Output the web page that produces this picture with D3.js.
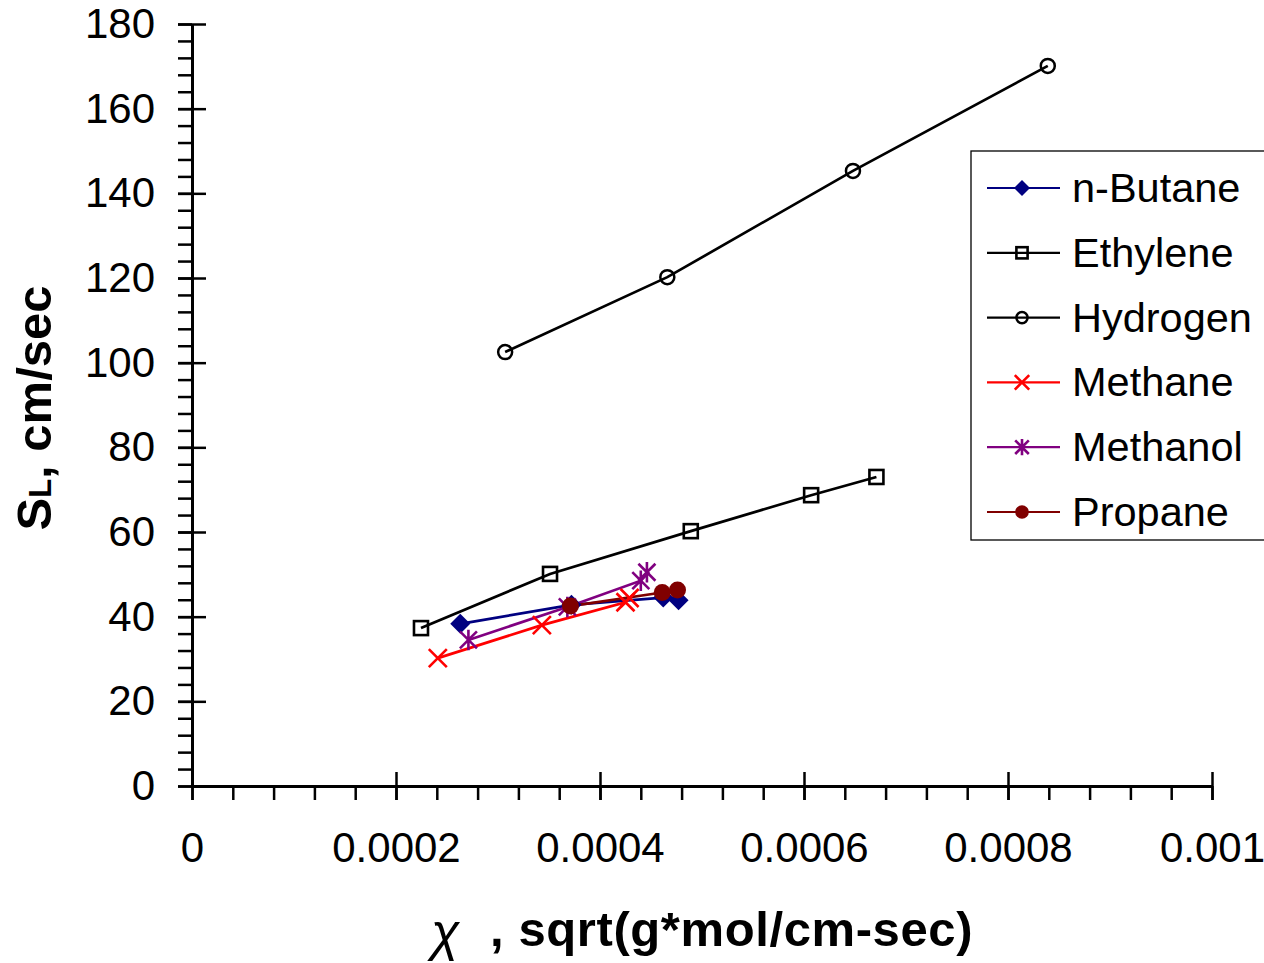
<!DOCTYPE html>
<html><head><meta charset="utf-8">
<script src="https://cdn.jsdelivr.net/npm/d3@7"></script>
<style>
html,body{margin:0;padding:0;background:#fff;}
svg{display:block;}
text{font-family:"Liberation Sans",Arial,sans-serif;}
</style></head>
<body>
<script>
// ---- data ----
const seriesNames = ["n-Butane","Ethylene","Hydrogen","Methane","Methanol","Propane"];
const butaneX = [0.000263,0.000372,0.000462,0.000477];
const butaneY = [38.3,42.8,44.5,43.9];
const ethyleneX = [0.0002245,0.000351,0.000489,0.000607,0.000671];
const ethyleneY = [37.3,50.1,60.2,68.7,73.0];
const hydrogenX = [0.000307,0.000466,0.000648,0.000839];
const hydrogenY = [102.5,120.2,145.3,170.1];
const methaneX = [0.000241,0.000343,0.000425,0.000429];
const methaneY = [30.2,38.0,43.4,44.4];
const methanolX = [0.000271,0.000368,0.000440,0.000446];
const methanolY = [34.5,42.3,48.5,50.5];
const propaneX = [0.000371,0.000461,0.000476];
const propaneY = [42.5,45.7,46.3];
const xTicks = [0,0.0002,0.0004,0.0006,0.0008,0.001];
const xTickLabels = ["0","0.0002","0.0004","0.0006","0.0008","0.001"];
const yTicks = [0,20,40,60,80,100,120,140,160,180];

const series = [
  {name:seriesNames[0], x:butaneX, y:butaneY, color:"#000080", marker:"diamond"},
  {name:seriesNames[1], x:ethyleneX, y:ethyleneY, color:"#000000", marker:"square"},
  {name:seriesNames[2], x:hydrogenX, y:hydrogenY, color:"#000000", marker:"circle"},
  {name:seriesNames[3], x:methaneX, y:methaneY, color:"#FF0000", marker:"x"},
  {name:seriesNames[4], x:methanolX, y:methanolY, color:"#800080", marker:"star"},
  {name:seriesNames[5], x:propaneX, y:propaneY, color:"#800000", marker:"dot"}
];

const W=1264,H=963;
const svg=d3.select("body").append("svg").attr("width",W).attr("height",H);
const x=d3.scaleLinear().domain([0,0.001]).range([192,1212]);
const y=d3.scaleLinear().domain([0,180]).range([786,24]);

// axes
const fs=42;
const yMinor=d3.range(0,181,4);
const xMinor=d3.range(0,26).map(i=>i*0.00004);
svg.append("g").attr("transform","translate(192,0)")
  .call(d3.axisLeft(y).tickValues(yMinor).tickSize(14).tickFormat(""))
  .call(g=>g.select(".domain").remove());
svg.append("g").attr("transform","translate(192,0)")
  .call(d3.axisRight(y).tickValues(yTicks).tickSize(14).tickFormat(""))
  .call(g=>g.select(".domain").remove());
const yAx=svg.append("g").attr("transform","translate(192,0)")
  .call(d3.axisLeft(y).tickValues(yTicks).tickSize(14).tickPadding(23).tickSizeOuter(0));
yAx.selectAll("text").attr("font-size",fs).attr("fill","#000").attr("font-family","Liberation Sans, Arial, sans-serif");
svg.append("g").attr("transform","translate(0,786)")
  .call(d3.axisBottom(x).tickValues(xMinor).tickSize(14).tickFormat(""))
  .call(g=>g.select(".domain").remove());
svg.append("g").attr("transform","translate(0,786)")
  .call(d3.axisTop(x).tickValues(xTicks).tickSize(14).tickFormat(""))
  .call(g=>g.select(".domain").remove());
const xAx=svg.append("g").attr("transform","translate(0,786)")
  .call(d3.axisBottom(x).tickValues(xTicks).tickSize(14).tickPadding(32).tickSizeOuter(0)
    .tickFormat((d,i)=>xTickLabels[i]));
xAx.selectAll("text").attr("font-size",fs).attr("fill","#000").attr("font-family","Liberation Sans, Arial, sans-serif");
svg.selectAll(".tick line").attr("stroke","#000").attr("stroke-width",2.5);
svg.selectAll(".domain").attr("stroke","#000").attr("stroke-width",3);

// markers
function drawMarker(g,type,color,cx,cy,s){
  s=s||1;
  if(type==="diamond"){
    const r=10*s;
    g.append("path").attr("d",`M${cx},${cy-r}L${cx+r},${cy}L${cx},${cy+r}L${cx-r},${cy}Z`).attr("fill",color);
  } else if(type==="square"){
    const r=7*s;
    g.append("rect").attr("x",cx-r).attr("y",cy-r).attr("width",2*r).attr("height",2*r)
      .attr("fill","none").attr("stroke",color).attr("stroke-width",2.6);
  } else if(type==="circle"){
    g.append("circle").attr("cx",cx).attr("cy",cy).attr("r",7*s).attr("fill","none").attr("stroke",color).attr("stroke-width",2.5);
  } else if(type==="x"){
    const r=9*s;
    g.append("path").attr("d",`M${cx-r},${cy-r}L${cx+r},${cy+r}M${cx-r},${cy+r}L${cx+r},${cy-r}`)
      .attr("stroke",color).attr("stroke-width",2.6).attr("fill","none");
  } else if(type==="star"){
    const r=8.5*s;
    g.append("path").attr("d",`M${cx-r},${cy-r}L${cx+r},${cy+r}M${cx-r},${cy+r}L${cx+r},${cy-r}M${cx},${cy-r*1.2}L${cx},${cy+r*1.2}`)
      .attr("stroke",color).attr("stroke-width",2.6).attr("fill","none");
  } else if(type==="dot"){
    g.append("circle").attr("cx",cx).attr("cy",cy).attr("r",8.5*s).attr("fill",color);
  }
}

const line=d3.line().x(d=>x(d[0])).y(d=>y(d[1]));
const plot=svg.append("g");
series.forEach(s=>{
  const pts=s.x.map((v,i)=>[v,s.y[i]]);
  plot.append("path").datum(pts).attr("d",line).attr("fill","none").attr("stroke",s.color).attr("stroke-width",2.7);
});
series.forEach(s=>{
  const g=plot.append("g");
  s.x.forEach((v,i)=>drawMarker(g,s.marker,s.color,x(v),y(s.y[i])));
});

// legend
const lg=svg.append("g");
lg.append("rect").attr("x",971).attr("y",151).attr("width",300).attr("height",389)
  .attr("fill","#fff").attr("stroke","#000").attr("stroke-width",1.3);
const legY=d3.scalePoint().domain(seriesNames).range([188,512]);
series.forEach(s=>{
  const cy=legY(s.name);
  lg.append("line").attr("x1",987).attr("x2",1060).attr("y1",cy).attr("y2",cy).attr("stroke",s.color).attr("stroke-width",2.2);
  drawMarker(lg,s.marker,s.color,1022,cy,0.8);
  lg.append("text").attr("x",1072).attr("y",cy+14).attr("font-size",41.5).text(s.name);
});

// axis titles
const yt=svg.append("text").attr("transform","translate(51,408) rotate(-90)")
  .attr("text-anchor","middle").attr("font-weight","bold").attr("font-size",49);
yt.append("tspan").text("S");
yt.append("tspan").attr("font-size",31).text("L");
yt.append("tspan").text(", cm/sec");

svg.append("text").attr("x",431).attr("y",950).attr("font-family","Liberation Serif, Times New Roman, serif")
  .attr("font-style","italic").attr("font-size",52).text("χ");
svg.append("text").attr("x",490).attr("y",946).attr("font-weight","bold").attr("font-size",49)
  .attr("letter-spacing",0.6).text(", sqrt(g*mol/cm-sec)");
</script>
</body></html>
